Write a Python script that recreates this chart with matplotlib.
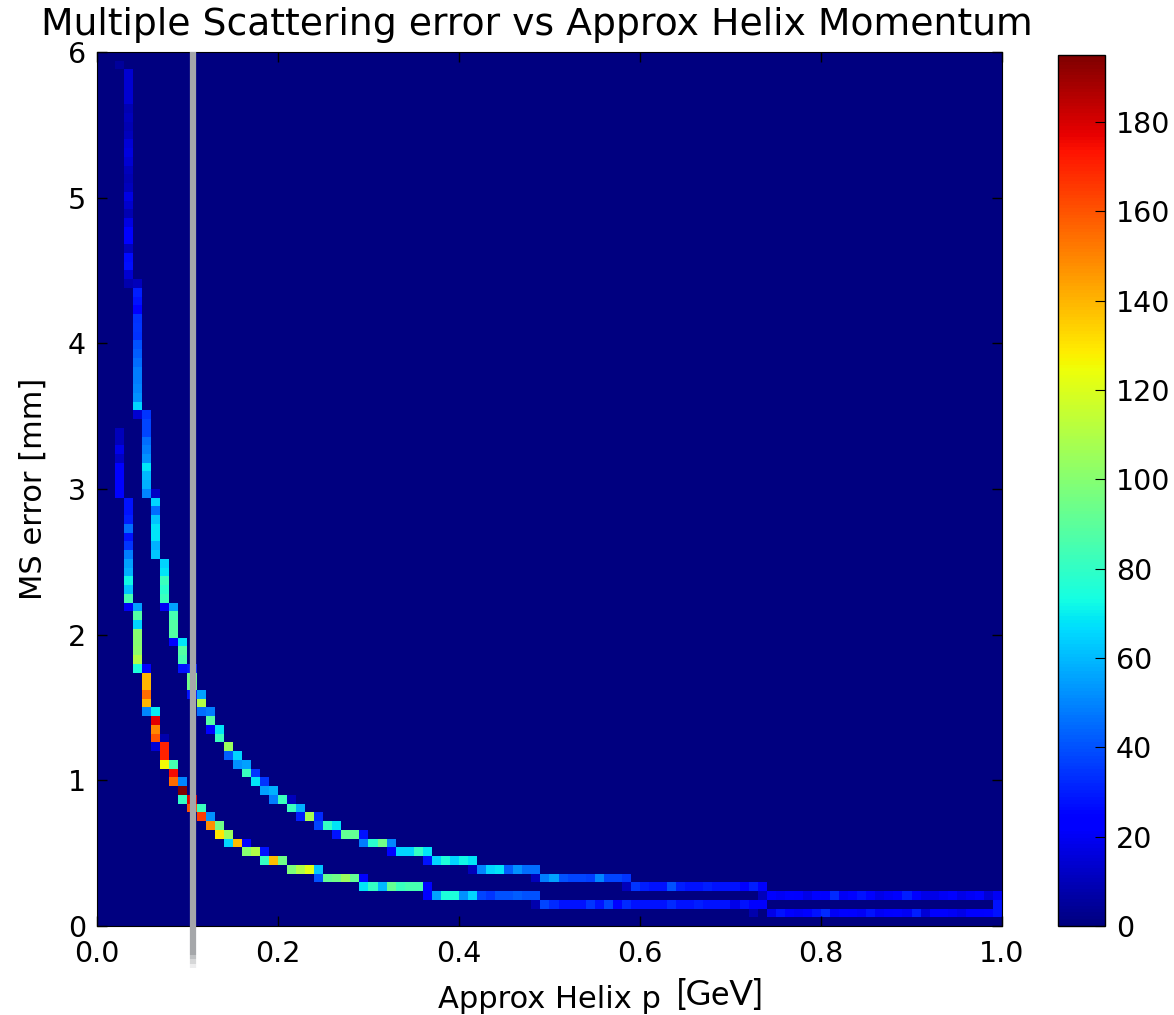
import matplotlib
matplotlib.use("Agg")
import matplotlib.pyplot as plt
import numpy as np

# 2D histogram: 100 x-bins over 0..1 GeV, 100 y-bins over 0..6 mm
n_bins = 100
p_range = [0.0, 1.0]
err_range = [0.0, 6.0]

# upper band: one entry per x-bin starting at bin 2; top y-bin and counts going down
upper_first_bin = 2
upper_top = [98, 97, 73, 58, 49, 41, 36, 32, 29, 26, 24, 22, 20, 19, 18, 17, 16, 15, 14, 14,
             13, 12, 12, 11, 11, 10, 10, 10, 9, 9, 9, 8, 8, 8, 8, 7, 7, 7, 7, 7,
             6, 6, 6, 6, 6, 6, 6, 5, 5, 5, 5, 5, 5, 5, 5, 5, 5, 4, 4, 4,
             4, 4, 4, 4, 4, 4, 4, 4, 4, 4, 4, 4, 3, 3, 3, 3, 3, 3, 3, 3,
             3, 3, 3, 3, 3, 3, 3, 3, 3, 3, 3, 3, 3, 3, 3, 3, 3, 3]
upper_counts = [
    [5],
    [14, 14, 14, 14, 9, 10, 9, 10, 15, 16, 14, 10, 9, 10, 17, 13, 9, 17, 22, 24, 10, 26, 27, 14, 8],
    [10, 30, 28, 24, 34, 35, 34, 40, 42, 45, 48, 48, 50, 52, 65, 14],
    [35, 38, 38, 45, 48, 52, 68, 60, 58, 50],
    [12, 65, 45, 62, 68, 68, 58, 62],
    [65, 68, 82, 78, 82, 20],
    [55, 85, 88, 88, 25],
    [68, 88, 85, 28],
    [30, 95, 95, 28],
    [55, 110, 45],
    [48, 88, 25],
    [68, 82],
    [105, 42],
    [65, 52],
    [55, 82],
    [35, 68],
    [35, 55],
    [58, 48],
    [82],
    [10, 82],
    [58, 30],
    [108],
    [32, 38],
    [80],
    [68, 28],
    [92],
    [92],
    [28, 48],
    [78],
    [95],
    [50, 25],
    [65], [65], [80], [68, 28],
    [65], [75], [65], [72], [68, 10],
    [50], [65], [68], [42], [52], [45], [45, 10],
    [48], [55], [40], [38], [38], [36], [50], [38], [38], [35, 10],
    [35], [30], [28], [28], [40], [30], [28], [28], [30], [28], [28], [28], [25], [30], [22, 10],
    [22], [20], [25], [22], [18], [25], [22], [32], [20], [25], [28], [25], [18],
    [20], [22], [30], [22], [18], [18], [20], [25], [18], [20], [25], [15],
    [20, 28],
]

# lower band
lower_first_bin = 2
lower_top = [56, 48, 36, 29, 24, 21, 18, 16, 14, 13, 12, 11, 10, 9, 9, 8, 8, 7, 7, 6,
             6, 6, 6, 5, 5, 5, 5, 5, 4, 4, 4, 4, 4, 4, 4, 3, 3, 3, 3, 3,
             3, 3, 3, 3, 3, 3, 3, 2, 2, 2, 2, 2, 2, 2, 2, 2, 2, 2, 2, 2,
             2, 2, 2, 2, 2, 2, 2, 2, 2, 2, 2, 2, 1, 1, 1, 1, 1, 1, 1, 1,
             1, 1, 1, 1, 1, 1, 1, 1, 1, 1, 1, 1, 1, 1, 1, 1, 1, 1]
lower_counts = [
    [10, 10, 18, 12, 22, 24, 25, 25],
    [28, 28, 30, 45, 28, 35, 48, 55, 58, 72, 62, 85, 20],
    [55, 88, 65, 100, 100, 102, 110, 75],
    [25, 140, 140, 155, 140, 50],
    [70, 178, 150, 160, 15],
    [8, 170, 170, 125],
    [85, 175, 155],
    [50, 195, 80],
    [178, 160],
    [82, 165],
    [52, 148],
    [95, 130],
    [105, 65],
    [138],
    [25, 100],
    [110],
    [28, 80],
    [138],
    [95],
    [98], [110], [122], [62, 40],
    [92], [95], [105], [92], [25, 68],
    [80], [60], [92], [82], [85], [85], [25, 22],
    [55], [75], [75], [52], [65], [38], [35], [40], [40], [42], [40], [40, 8],
    [38], [32], [28], [28], [28], [35], [28], [38], [25], [32], [28], [28],
    [28], [28], [32], [28], [28], [30], [28], [28], [28], [18], [28], [22, 8],
    [22], [18], [28], [22], [20], [22], [28], [32], [20], [25], [22], [20], [28],
    [20], [22], [25], [20], [30], [15], [22], [22], [20], [18], [22], [22], [25], [28],
]

cut_p = 0.106  # gray marker line


def to_points(first_bin, tops, counts):
    dx = (p_range[1] - p_range[0]) / n_bins
    dy = (err_range[1] - err_range[0]) / n_bins
    xs, ys, ws = [], [], []
    for k, (top, col) in enumerate(zip(tops, counts)):
        for m, c in enumerate(col):
            xs.append((first_bin + k + 0.5) * dx)
            ys.append((top - m + 0.5) * dy)
            ws.append(c)
    return xs, ys, ws


ux, uy, uw = to_points(upper_first_bin, upper_top, upper_counts)
lx, ly, lw = to_points(lower_first_bin, lower_top, lower_counts)
x = np.array(ux + lx)
y = np.array(uy + ly)
w = np.array(uw + lw)

plt.rcParams['font.family'] = 'DejaVu Sans'
fig = plt.figure(figsize=(11.74, 10.15), dpi=100)
ax = fig.add_axes([0.0826, 0.0877, 0.7709, 0.8611])
cax = fig.add_axes([0.9012, 0.0877, 0.0400, 0.8581])

h = ax.hist2d(x, y, bins=n_bins, range=[p_range, err_range], weights=w, cmap='jet', vmin=0)

ax.set_xlim(p_range)
ax.set_ylim(err_range)
ax.set_xticks(np.arange(0, 1.01, 0.2))
ax.set_xticklabels(["%.1f" % t for t in np.arange(0, 1.01, 0.2)])
ax.set_yticks(range(0, 7))
ax.tick_params(direction='in', length=7, width=1, top=True, right=True, labelsize=20.5)
ax.tick_params(axis='x', pad=10)
ax.tick_params(axis='y', pad=8)
ax.set_title("Multiple Scattering error vs Approx Helix Momentum", fontsize=27.2, pad=12, x=0.486)
ax.set_ylabel("MS error [mm]", fontsize=22, labelpad=14)
ax.set_xlabel("Approx Helix p", fontsize=22)
ax.xaxis.set_label_coords(0.5, -0.068)

# hand-added unit next to the x label
fig.text(0.576, 0.004, "[GeV]", fontsize=25, family='Lato', color='black', ha='left', va='bottom')

# gray marker line running past the bottom of the axes
ax.plot([cut_p, cut_p], [6.0, -0.2], color='#a5a7aa', lw=4.5, solid_capstyle='butt', clip_on=False, zorder=5)
for k, a in enumerate([0.7, 0.45, 0.2]):
    ax.plot([cut_p, cut_p], [-0.2 - 0.03 * k, -0.23 - 0.03 * k], color='#a5a7aa', alpha=a, lw=4.5,
            solid_capstyle='butt', clip_on=False, zorder=5)

cb = fig.colorbar(h[3], cax=cax)
cb.set_ticks(range(0, 181, 20))
cax.tick_params(labelsize=20.5, direction='in', length=7, pad=8)
cb.outline.set_linewidth(1)

fig.savefig("out.png", dpi=100)
